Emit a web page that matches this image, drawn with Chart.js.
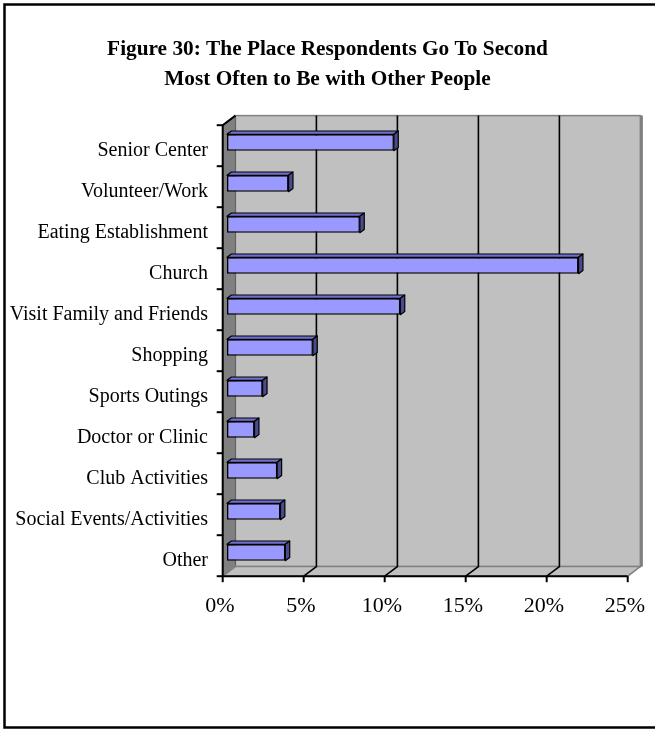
<!DOCTYPE html>
<html>
<head>
<meta charset="utf-8">
<script src="https://cdn.jsdelivr.net/npm/chart.js@4.4.0/dist/chart.umd.min.js"></script>
<style>
  html, body { margin: 0; padding: 0; background: #fff; }
</style>
</head>
<body>
<canvas id="grafico" width="655" height="730"></canvas>
<script>
// Figure 30 - second most frequent place to be with other people
const categorias = [
    'Senior Center',
    'Volunteer/Work',
    'Eating Establishment',
    'Church',
    'Visit Family and Friends',
    'Shopping',
    'Sports Outings',
    'Doctor or Clinic',
    'Club Activities',
    'Social Events/Activities',
    'Other'
];
const percentuais = [10.3, 3.8, 8.2, 21.7, 10.7, 5.3, 2.2, 1.7, 3.1, 3.3, 3.6];
const ticksX = [0, 5, 10, 15, 20, 25];

const FONTE = 'Liberation Serif, Times New Roman, serif';

// offsets of the 3D box, relative to the plane the bars sit in
const FRENTE = { dx: -4.3, dy: 3.2 };
const FUNDO = { dx: 8.4, dy: -6.4 };
const PROF_BARRA = { dx: 4.4, dy: 3.3 };

const caminho = (ctx, pts) => {
    ctx.beginPath();
    ctx.moveTo(pts[0][0], pts[0][1]);
    for (let i = 1; i < pts.length; i++) ctx.lineTo(pts[i][0], pts[i][1]);
    ctx.closePath();
};

const paredes3d = {
    id: 'paredes3d',
    beforeDatasetsDraw(chart) {
        const { ctx, chartArea: a, scales: { x } } = chart;
        const x0 = x.getPixelForValue(ticksX[0]);
        const x1 = x.getPixelForValue(ticksX[ticksX.length - 1]);
        const topo = a.top, base = a.bottom;
        ctx.save();

        // back wall
        ctx.fillStyle = '#c0c0c0';
        ctx.fillRect(x0 + FUNDO.dx, topo + FUNDO.dy, x1 - x0, base - topo);
        ctx.strokeStyle = '#808080';
        ctx.lineWidth = 1.5;
        ctx.strokeRect(x0 + FUNDO.dx, topo + FUNDO.dy, x1 - x0, base - topo);
        ctx.lineWidth = 3;
        ctx.beginPath();
        ctx.moveTo(x1 + FUNDO.dx + 1, topo + FUNDO.dy);
        ctx.lineTo(x1 + FUNDO.dx + 1, base + FUNDO.dy);
        ctx.stroke();

        // side wall
        caminho(ctx, [
            [x0 + FRENTE.dx, topo + FRENTE.dy],
            [x0 + FUNDO.dx, topo + FUNDO.dy],
            [x0 + FUNDO.dx, base + FUNDO.dy],
            [x0 + FRENTE.dx, base + FRENTE.dy]
        ]);
        ctx.fillStyle = '#808080';
        ctx.fill();
        ctx.strokeStyle = '#606060';
        ctx.lineWidth = 1;
        ctx.stroke();

        // floor
        caminho(ctx, [
            [x0 + FRENTE.dx, base + FRENTE.dy],
            [x0 + FUNDO.dx, base + FUNDO.dy],
            [x1 + FUNDO.dx, base + FUNDO.dy],
            [x1 + FRENTE.dx, base + FRENTE.dy]
        ]);
        ctx.fillStyle = '#c0c0c0';
        ctx.fill();
        ctx.strokeStyle = '#808080';
        ctx.lineWidth = 1.5;
        ctx.stroke();

        // gridlines on the back wall, running down across the floor
        ctx.strokeStyle = '#000';
        ctx.lineWidth = 1.6;
        ticksX.slice(1, -1).forEach(v => {
            const px = x.getPixelForValue(v);
            ctx.beginPath();
            ctx.moveTo(px + FUNDO.dx, topo + FUNDO.dy);
            ctx.lineTo(px + FUNDO.dx, base + FUNDO.dy);
            ctx.lineTo(px + FRENTE.dx, base + FRENTE.dy);
            ctx.stroke();
        });

        // front axes
        ctx.lineWidth = 2;
        ctx.beginPath();
        ctx.moveTo(x0 + FUNDO.dx, topo + FUNDO.dy);
        ctx.lineTo(x0 + FRENTE.dx, topo + FRENTE.dy);
        ctx.lineTo(x0 + FRENTE.dx, base + FRENTE.dy);
        ctx.lineTo(x1 + FRENTE.dx, base + FRENTE.dy);
        ctx.stroke();

        // category tick marks (band boundaries)
        const faixa = (base - topo) / categorias.length;
        for (let i = 0; i <= categorias.length; i++) {
            const yy = topo + i * faixa + FRENTE.dy;
            ctx.beginPath();
            ctx.moveTo(x0 + FRENTE.dx - 6, yy);
            ctx.lineTo(x0 + FRENTE.dx, yy);
            ctx.stroke();
        }
        // value tick marks
        ticksX.forEach(v => {
            const px = x.getPixelForValue(v) + FRENTE.dx;
            ctx.beginPath();
            ctx.moveTo(px, base + FRENTE.dy);
            ctx.lineTo(px, base + FRENTE.dy + 6);
            ctx.stroke();
        });
        ctx.restore();
    },
    afterDatasetsDraw(chart) {
        const { ctx } = chart;
        const meta = chart.getDatasetMeta(0);
        ctx.save();
        ctx.strokeStyle = '#000';
        ctx.lineWidth = 1.2;
        ctx.lineJoin = 'round';
        meta.data.forEach(barra => {
            const { x, y, base, height } = barra.getProps(['x', 'y', 'base', 'height'], true);
            const yTopo = y - height / 2;
            const yBase = y + height / 2;
            // top face
            caminho(ctx, [
                [base, yTopo],
                [base + PROF_BARRA.dx, yTopo - PROF_BARRA.dy],
                [x + PROF_BARRA.dx, yTopo - PROF_BARRA.dy],
                [x, yTopo]
            ]);
            ctx.fillStyle = '#7070d0';
            ctx.fill();
            ctx.stroke();
            // end face
            caminho(ctx, [
                [x, yTopo],
                [x + PROF_BARRA.dx, yTopo - PROF_BARRA.dy],
                [x + PROF_BARRA.dx, yBase - PROF_BARRA.dy],
                [x, yBase]
            ]);
            ctx.fillStyle = '#4a4a8f';
            ctx.fill();
            ctx.stroke();
        });
        ctx.restore();
    },
    afterDraw(chart) {
        // frame around the figure
        const { ctx } = chart;
        ctx.save();
        ctx.strokeStyle = '#000';
        ctx.lineWidth = 2.5;
        ctx.beginPath();
        ctx.moveTo(chart.width + 2, 4.5);
        ctx.lineTo(4.5, 4.5);
        ctx.lineTo(4.5, 727.5);
        ctx.lineTo(chart.width + 2, 727.5);
        ctx.stroke();
        ctx.restore();
    }
};

const ctx = document.getElementById('grafico').getContext('2d');

new Chart(ctx, {
    type: 'bar',
    data: {
        labels: categorias,
        datasets: [{
            data: percentuais,
            backgroundColor: '#9999ff',
            borderColor: '#000',
            borderWidth: 1.5,
            borderSkipped: false,
            categoryPercentage: 1,
            barPercentage: 0.4
        }]
    },
    options: {
        indexAxis: 'y',
        responsive: false,
        animation: false,
        layout: { padding: 0 },
        scales: {
            x: {
                min: 0,
                max: 25,
                afterBuildTicks: scale => {
                    scale.ticks = ticksX.map(v => ({ value: v }));
                },
                afterFit: scale => {
                    // fixed axis height; right gap kept free for the 3D wall
                    scale.height = 157;
                    scale.paddingLeft = 0;
                    scale.paddingRight = 23;
                },
                grid: { display: false, drawTicks: false },
                border: { display: false },
                ticks: {
                    color: '#000',
                    font: { family: FONTE, size: 22 },
                    padding: 20,
                    labelOffset: -7,
                    maxRotation: 0,
                    callback: v => v + '%'
                }
            },
            y: {
                afterFit: scale => {
                    scale.width = 227;
                    scale.paddingTop = 0;
                    scale.paddingBottom = 0;
                },
                grid: { display: false, drawTicks: false },
                border: { display: false },
                ticks: {
                    color: '#000',
                    font: { family: FONTE, size: 20 },
                    padding: 19,
                    labelOffset: 8.5
                }
            }
        },
        plugins: {
            legend: { display: false },
            tooltip: { enabled: false },
            title: {
                display: true,
                text: [
                    'Figure 30: The Place Respondents Go To Second',
                    'Most Often to Be with Other People'
                ],
                color: '#000',
                font: { family: FONTE, size: 21.3, weight: 'bold', lineHeight: '30px' },
                padding: { top: 34, bottom: 28 }
            }
        }
    },
    plugins: [paredes3d]
});
</script>
</body>
</html>
